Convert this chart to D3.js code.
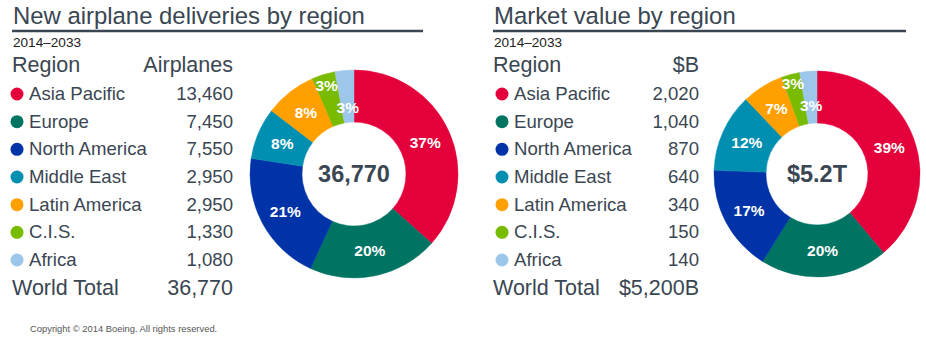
<!DOCTYPE html>
<html><head><meta charset="utf-8">
<script src="https://cdn.jsdelivr.net/npm/d3@7"></script>
<style>
html,body{margin:0;padding:0;background:#fff;}
svg{display:block;font-family:"Liberation Sans",Arial,sans-serif;}
</style></head>
<body><svg id="c" width="926" height="339"></svg>
<script>
const regions = ["Asia Pacific","Europe","North America","Middle East","Latin America","C.I.S.","Africa"];
const colors = ["#e4003a","#007462","#0033a8","#008fb0","#ffa000","#78bb00","#9cc7eb"];
const airplanes = [13460,7450,7550,2950,2950,1330,1080];
const marketValue = [2020,1040,870,640,340,150,140];
const airplaneLabels = ["13,460","7,450","7,550","2,950","2,950","1,330","1,080"];
const marketLabels = ["2,020","1,040","870","640","340","150","140"];
const airplanePct = ["37%","20%","21%","8%","8%","3%","3%"];
const marketPct = ["39%","20%","17%","12%","7%","3%","3%"];

const svg = d3.select("#c");
const ink = "#3a4652";

function panel(o){
  const g = svg.append("g");
  g.append("text").attr("x",o.x).attr("y",24).attr("font-size",23.9).attr("fill",ink).text(o.title);
  g.append("line").attr("x1",o.x-1).attr("x2",o.lineEnd).attr("y1",31).attr("y2",31).attr("stroke",ink).attr("stroke-width",2.5);
  g.append("text").attr("x",o.x).attr("y",47).attr("font-size",13.6).attr("fill","#222").text("2014–2033");
  g.append("text").attr("x",o.x-1).attr("y",72).attr("font-size",21.5).attr("fill",ink).text("Region");
  g.append("text").attr("x",o.valX).attr("y",72).attr("font-size",21.5).attr("fill",ink).attr("text-anchor","end").text(o.header);
  const y = d3.scalePoint().domain(regions).range([100,266]);
  regions.forEach((r,i)=>{
    g.append("circle").attr("cx",o.dotX).attr("cy",y(r)-6).attr("r",6.5).attr("fill",colors[i]);
    g.append("text").attr("x",o.dotX+12).attr("y",y(r)).attr("font-size",18.6).attr("fill",ink).text(r);
    g.append("text").attr("x",o.valX).attr("y",y(r)).attr("font-size",18.6).attr("fill",ink).attr("text-anchor","end").text(o.labels[i]);
  });
  g.append("text").attr("x",o.x-1).attr("y",295).attr("font-size",21.5).attr("fill",ink).text("World Total");
  g.append("text").attr("x",o.valX).attr("y",295).attr("font-size",21.5).attr("fill",ink).attr("text-anchor","end").text(o.total);

  // donut
  const pie = d3.pie().sort(null).value(d=>d)(o.values);
  const arc = d3.arc().innerRadius(o.ri).outerRadius(o.ro);
  const dg = g.append("g").attr("transform",`translate(${o.cx},${o.cy})`);
  dg.selectAll("path").data(pie).join("path").attr("d",arc).attr("fill",(d,i)=>colors[i])
    .attr("stroke",(d,i)=>colors[i]).attr("stroke-width",0.5);
  const mid = (o.ri+o.ro)/2;
  dg.selectAll("text.p").data(pie).join("text").attr("class","p")
    .attr("transform",(d,i)=>{
      const r = o.labelR[i] ?? mid;
      const c = d3.arc().innerRadius(r).outerRadius(r).centroid(d);
      return `translate(${c[0]},${c[1]})`;
    })
    .attr("text-anchor","middle").attr("dy","0.36em")
    .attr("font-size",15.5).attr("font-weight","bold").attr("fill","#fff")
    .text((d,i)=>o.pct[i]);
  dg.append("text").attr("text-anchor","middle").attr("dy","0.36em").attr("font-size",23.5)
    .attr("font-weight","bold").attr("fill",ink).text(o.center);
}

panel({x:13,lineEnd:423,title:"New airplane deliveries by region",header:"Airplanes",valX:233,dotX:17,
  labels:airplaneLabels,total:"36,770",values:airplanes,pct:airplanePct,center:"36,770",
  cx:354,cy:174,ri:52,ro:104,labelR:{5:93,6:67}});
panel({x:494,lineEnd:906,title:"Market value by region",header:"$B",valX:699,dotX:502,
  labels:marketLabels,total:"$5,200B",values:marketValue,pct:marketPct,center:"$5.2T",
  cx:817,cy:174,ri:51,ro:103,labelR:{5:94,6:69}});

svg.append("text").attr("x",30).attr("y",332).attr("font-size",9.4).attr("fill","#555")
  .text("Copyright © 2014 Boeing. All rights reserved.");
</script></body></html>
